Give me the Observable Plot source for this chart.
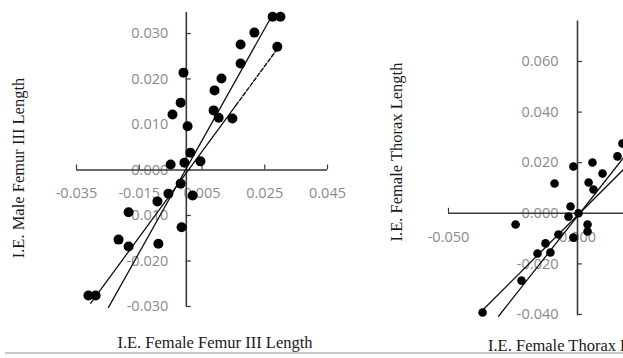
<!DOCTYPE html>
<html>
<head>
<meta charset="utf-8">
<script src="https://cdn.jsdelivr.net/npm/d3@7"></script>
<script src="https://cdn.jsdelivr.net/npm/@observablehq/plot@0.6"></script>
<style>
  html, body { margin: 0; padding: 0; background: #fff; overflow: hidden; }
  #wrap { position: relative; width: 623px; height: 358px; overflow: hidden; background: #fff; }
  .panel { position: absolute; top: 0; width: 360px; height: 358px; }
  .panel svg { max-width: none !important; width: 360px; height: 358px; }
  .title { position: absolute; font-family: "Liberation Serif", "DejaVu Serif", serif; font-size: 16.5px; color: #1a1a1a; white-space: nowrap; }
  .rot { transform: translate(-50%, -50%) rotate(-90deg); }
  .hcenter { transform: translate(-50%, -50%); }
  #rule { position: absolute; left: 5px; top: 352px; width: 618px; height: 2px; background: #c9c9c9; }
</style>
</head>
<body>
<div id="wrap">
  <div id="left" class="panel" style="left:0px"></div>
  <div id="right" class="panel" style="left:360px"></div>
  <div class="title rot" style="left:19px; top:168px;">I.E. Male Femur III Length</div>
  <div class="title hcenter" style="left:215px; top:343px;">I.E. Female Femur III Length</div>
  <div class="title rot" style="left:397px; top:152px;">I.E. Female Thorax Length</div>
  <div class="title" style="left:488px; top:336px;">I.E. Female Thorax Length</div>
  <div id="rule"></div>
</div>
<script>
// ---------- Left panel: Femur III ----------
const leftX = [0.0275, 0.0300, 0.0290, 0.0217, 0.0173, 0.0173, 0.0112, 0.0090, 0.0087, 0.0103,
               0.0147, -0.0009, -0.0018, -0.0044, 0.0004, 0.0013, 0.0045, -0.0006, -0.0050,
               -0.0018, -0.0057, -0.0092, 0.0020, -0.0184, -0.0015, -0.0216, -0.0184, -0.0089,
               -0.0312, -0.0289];
const leftY = [0.0337, 0.0337, 0.0271, 0.0302, 0.0276, 0.0234, 0.0201, 0.0175, 0.0131, 0.0115,
               0.0113, 0.0214, 0.0148, 0.0122, 0.0096, 0.0038, 0.0019, 0.0016, 0.0012,
               -0.0030, -0.0052, -0.0069, -0.0056, -0.0093, -0.0126, -0.0153, -0.0168, -0.0162,
               -0.0276, -0.0276];
const leftXTicks = [-0.035, -0.015, 0.005, 0.025, 0.045];
const leftYTicks = [-0.03, -0.02, -0.01, 0, 0.01, 0.02, 0.03];
const leftXAxis = [-0.035, 0.045];
const leftYAxis = [-0.030, 0.0346];
// fitted lines (endpoints)
const leftLineSolidX = [-0.0248, 0.0268];
const leftLineSolidY = [-0.0302, 0.0333];
const leftLineA_X = [-0.0305, 0.0158, 0.0291];   // solid up to middle point, dashed after
const leftLineA_Y = [-0.0293, 0.0142, 0.0267];

// ---------- Right panel: Thorax ----------
const rightX = [-0.0016, 0.0058, -0.0089, 0.0097, 0.0043, 0.0062, 0.0155, 0.0174, -0.0027, 0.0004,
                -0.0035, -0.0240, 0.0039, 0.0039, -0.0016, -0.0074, -0.0124, -0.0105, -0.0155,
                -0.0217, -0.0368];
const rightY = [0.0185, 0.0201, 0.0118, 0.0157, 0.0122, 0.0094, 0.0225, 0.0276, 0.0027, 0.0000,
                -0.0013, -0.0044, -0.0044, -0.0072, -0.0096, -0.0084, -0.0119, -0.0155, -0.0159,
                -0.0266, -0.0392];
const rightXTicks = [-0.05, 0];
const rightYTicks = [-0.04, -0.02, 0, 0.02, 0.04, 0.06];
const rightXAxis = [-0.05, 0.07];
const rightYAxis = [-0.0405, 0.076];
const rightLine1X = [-0.0368, 0.0244];
const rightLine1Y = [-0.0383, 0.0240];
const rightLine2X = [-0.0306, 0.0194];
const rightLine2Y = [-0.0407, 0.0240];

const fmt = d => d.toFixed(3);
const tickFont = {fill: "#8a8a8a", fontSize: 14.5, fontFamily: "'Open Sans', 'Liberation Sans', sans-serif"};
const axisStroke = "#3a3a3a";
const zip = (xs, ys) => xs.map((x, i) => ({x, y: ys[i]}));

function axisMarks(xTicks, yTicks, xAxis, yAxis, xdy, ydx) {
  return [
    Plot.text(yTicks, {x: 0, y: d => d, text: fmt, textAnchor: "end", dx: ydx, ...tickFont}),
    Plot.text(xTicks, {x: d => d, y: 0, text: fmt, dy: xdy, ...tickFont}),
    Plot.ruleY([0], {y: d => d, x1: xAxis[0], x2: xAxis[1], stroke: axisStroke, strokeWidth: 1.6}),
    Plot.ruleX([0], {x: d => d, y1: yAxis[0], y2: yAxis[1], stroke: axisStroke, strokeWidth: 1.6}),
    Plot.ruleX(xTicks, {x: d => d, y1: 0, y2: 0, insetTop: -5, stroke: axisStroke, strokeWidth: 1.2}),
    Plot.ruleY(yTicks, {y: d => d, x1: 0, x2: 0, insetRight: -5, stroke: axisStroke, strokeWidth: 1.2})
  ];
}

const leftA = zip(leftLineA_X, leftLineA_Y);
const leftPlot = Plot.plot({
  width: 360, height: 358,
  x: {domain: [-0.035, 0.045], range: [76, 327], axis: null},
  y: {domain: [-0.03, 0.03], range: [306, 33], axis: null},
  marks: [
    ...axisMarks(leftXTicks, leftYTicks, leftXAxis, leftYAxis, 23.5, -18),
    Plot.line(zip(leftLineSolidX, leftLineSolidY), {x: "x", y: "y", stroke: "#111", strokeWidth: 1.3}),
    Plot.line(leftA.slice(0, 2), {x: "x", y: "y", stroke: "#111", strokeWidth: 1.3}),
    Plot.line(leftA.slice(1), {x: "x", y: "y", stroke: "#111", strokeWidth: 1.4, strokeDasharray: "4,2"}),
    Plot.dot(zip(leftX, leftY), {x: "x", y: "y", r: 5, fill: "#000"})
  ]
});
document.getElementById("left").appendChild(leftPlot);

const rightPlot = Plot.plot({
  width: 360, height: 358,
  x: {domain: [-0.05, 0.05], range: [88, 346], axis: null},
  y: {domain: [-0.04, 0.06], range: [314, 61], axis: null},
  marks: [
    ...axisMarks(rightXTicks, rightYTicks, rightXAxis, rightYAxis, 24, -19),
    Plot.line(zip(rightLine1X, rightLine1Y), {x: "x", y: "y", stroke: "#111", strokeWidth: 1.3}),
    Plot.line(zip(rightLine2X, rightLine2Y), {x: "x", y: "y", stroke: "#111", strokeWidth: 1.3}),
    Plot.dot(zip(rightX, rightY), {x: "x", y: "y", r: 4.3, fill: "#000"})
  ]
});
document.getElementById("right").appendChild(rightPlot);
</script>
</body>
</html>
